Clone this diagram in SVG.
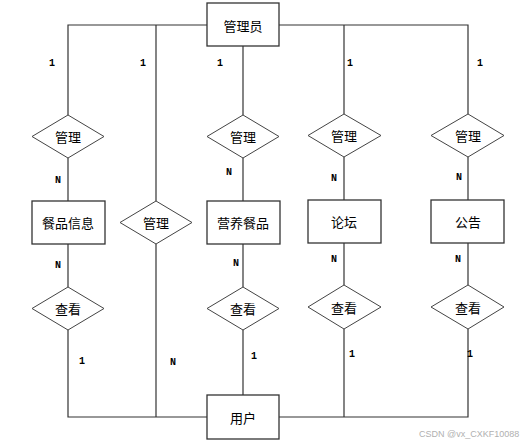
<svg xmlns="http://www.w3.org/2000/svg" width="524" height="445" viewBox="0 0 524 445">
<style>
.ent{fill:#fff;stroke:#333;stroke-width:1.3}
.rel{fill:#fff;stroke:#444;stroke-width:1}
.ln{fill:none;stroke:#333;stroke-width:1.2}
.t{font-family:"Noto Sans CJK SC","Noto Sans",sans-serif;font-size:13px;fill:#000;text-anchor:middle;dominant-baseline:central}
.c{font-family:"Liberation Mono","DejaVu Sans Mono",monospace;font-size:10px;font-weight:bold;fill:#000;text-anchor:middle;dominant-baseline:central}
.wm{font-family:"Liberation Sans",Arial,sans-serif;font-size:9px;fill:#b0b0b0}
</style>
<rect width="524" height="445" fill="#fff"/>
<g id="connectors">
<polyline class="ln" points="68,115 68,25 468,25 468,114"/>
<line class="ln" x1="156" y1="25" x2="156" y2="201"/>
<line class="ln" x1="344" y1="25" x2="344" y2="114"/>
<line class="ln" x1="243" y1="46" x2="243" y2="115"/>
<line class="ln" x1="68" y1="158" x2="68" y2="201"/>
<line class="ln" x1="243" y1="158" x2="243" y2="201"/>
<line class="ln" x1="344" y1="157" x2="344" y2="200"/>
<line class="ln" x1="468" y1="157" x2="468" y2="200"/>
<line class="ln" x1="68" y1="244" x2="68" y2="287"/>
<line class="ln" x1="243" y1="244" x2="243" y2="287"/>
<line class="ln" x1="344" y1="243" x2="344" y2="285"/>
<line class="ln" x1="468" y1="243" x2="468" y2="285"/>
<polyline class="ln" points="68,330 68,417 468,417 468,329"/>
<line class="ln" x1="156" y1="244" x2="156" y2="417"/>
<line class="ln" x1="344" y1="329" x2="344" y2="417"/>
<line class="ln" x1="243" y1="330" x2="243" y2="395"/>
<text class="c" x="52" y="63">1</text>
<text class="c" x="143" y="63">1</text>
<text class="c" x="220" y="63">1</text>
<text class="c" x="350" y="63">1</text>
<text class="c" x="480" y="63">1</text>
<text class="c" x="58" y="180">N</text>
<text class="c" x="229" y="172">N</text>
<text class="c" x="334" y="178">N</text>
<text class="c" x="459" y="177">N</text>
<text class="c" x="58" y="265">N</text>
<text class="c" x="236" y="263">N</text>
<text class="c" x="334" y="259">N</text>
<text class="c" x="458" y="259">N</text>
<text class="c" x="82" y="361">1</text>
<text class="c" x="173" y="362">N</text>
<text class="c" x="254" y="356">1</text>
<text class="c" x="352" y="354">1</text>
<text class="c" x="470" y="354">1</text>
</g>
<g id="admin"><rect class="ent" x="207" y="3" width="72" height="43"/><text class="t" x="243" y="25">管理员</text></g>
<g id="user"><rect class="ent" x="207" y="395" width="72" height="44"/><text class="t" x="243" y="417">用户</text></g>
<g id="meal-info"><rect class="ent" x="32" y="201" width="73" height="43"/><text class="t" x="68" y="222">餐品信息</text></g>
<g id="nutrition-meal"><rect class="ent" x="207" y="201" width="73" height="43"/><text class="t" x="243" y="222">营养餐品</text></g>
<g id="forum"><rect class="ent" x="308" y="200" width="73" height="43"/><text class="t" x="344" y="221">论坛</text></g>
<g id="notice"><rect class="ent" x="431" y="200" width="73" height="43"/><text class="t" x="468" y="221">公告</text></g>
<g id="manage1"><polygon class="rel" points="68,115 104,136.5 68,158 32,136.5"/><text class="t" x="68" y="136.5">管理</text></g>
<g id="manage2"><polygon class="rel" points="243,115 279,136.5 243,158 207,136.5"/><text class="t" x="243" y="136.5">管理</text></g>
<g id="manage3"><polygon class="rel" points="344,114 381,135.5 344,157 308,135.5"/><text class="t" x="344" y="135.5">管理</text></g>
<g id="manage4"><polygon class="rel" points="468,114 504,135.5 468,157 431,135.5"/><text class="t" x="468" y="135.5">管理</text></g>
<g id="manage-user"><polygon class="rel" points="156,201 192,222.5 156,244 120,222.5"/><text class="t" x="156" y="222.5">管理</text></g>
<g id="view1"><polygon class="rel" points="68,287 104,308.5 68,330 32,308.5"/><text class="t" x="68" y="308.5">查看</text></g>
<g id="view2"><polygon class="rel" points="243,287 279,308.5 243,330 207,308.5"/><text class="t" x="243" y="308.5">查看</text></g>
<g id="view3"><polygon class="rel" points="344,285 381,307 344,329 308,307"/><text class="t" x="344" y="307">查看</text></g>
<g id="view4"><polygon class="rel" points="468,285 504,307 468,329 431,307"/><text class="t" x="468" y="307">查看</text></g>
<text class="wm" x="419" y="437">CSDN @vx_CXKF10088</text>
</svg>
